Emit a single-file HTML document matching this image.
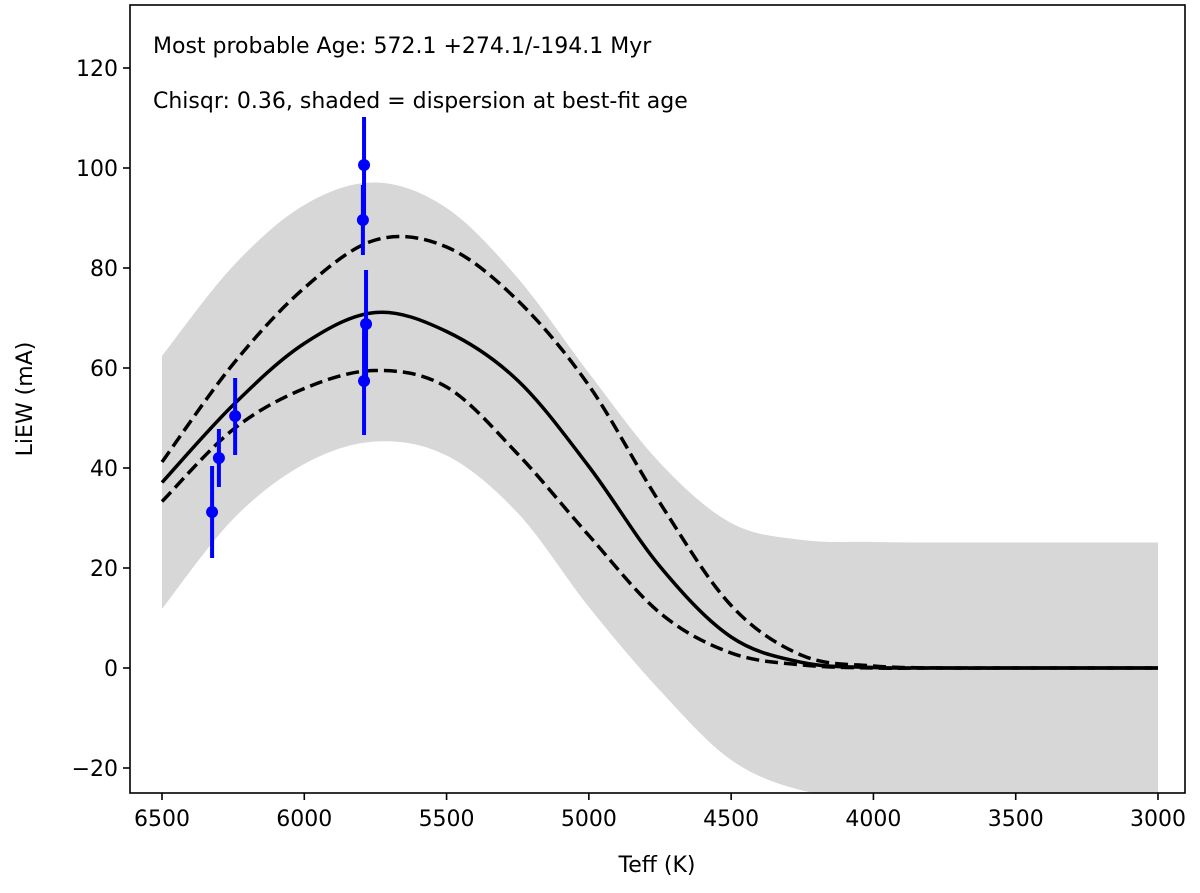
<!DOCTYPE html>
<html><head><meta charset="utf-8"><style>
body{margin:0;background:#fff}
svg text{font-family:"DejaVu Sans","Liberation Sans",sans-serif;fill:#000}
</style></head><body>
<svg id="chart" width="1200" height="888" xmlns="http://www.w3.org/2000/svg">
<g id="plot"></g>
</svg>
<script>
const teffGrid=[6500,6250,6000,5750,5500,5250,5000,4750,4500,4250,4000,3750,3500,3250,3000];
const solidVals=[37.1,52.6,64.9,71.1,67.3,57.5,40.3,20.3,6.2,1.1,0.1,0,0,0,0];
const upperVals=[41.2,60.8,76,85.6,84.2,73.5,56.5,33,12.5,2.5,0.4,0,0,0,0];
const lowerVals=[33.3,47.7,55.9,59.5,56.2,42.8,26.5,11,3,0.6,0,0,0,0,0];
const shadeTop=[62.4,80.4,92.6,97.1,92,78,59,41,29,25.6,25.2,25.1,25.1,25.1,25.1];
const shadeBot=[11.8,29.8,40.8,45.3,42.5,31,12.2,-4.5,-18.4,-24.5,-25.7,-26,-26,-26,-26];
const ptTeff=[6324,6300,6243,5790,5794,5783,5790];
const ptEW=[31.2,42,50.4,100.6,89.6,68.8,57.4];
const ptLo=[22,36.2,42.6,90.6,82.6,58,46.6];
const ptHi=[40.4,47.8,58,110.2,96.6,79.6,68.2];
const xTicks=[6500,6000,5500,5000,4500,4000,3500,3000];
const yTicks=[-20,0,20,40,60,80,100,120];

const L=130,R=1185,T=5,B=793;
const X=t=>162+(6500-t)*(996/3500);
const Y=v=>668-v*5;
const NS="http://www.w3.org/2000/svg";
const g=document.getElementById('plot');
function el(tag,attrs,parent){const e=document.createElementNS(NS,tag);for(const k in attrs)e.setAttribute(k,attrs[k]);(parent||g).appendChild(e);return e;}
function smooth(pts){let d=`M${pts[0][0]},${pts[0][1]}`;for(let i=0;i<pts.length-1;i++){const p0=pts[Math.max(0,i-1)],p1=pts[i],p2=pts[i+1],p3=pts[Math.min(pts.length-1,i+2)];
const c1=[p1[0]+(p2[0]-p0[0])/6,p1[1]+(p2[1]-p0[1])/6],c2=[p2[0]-(p3[0]-p1[0])/6,p2[1]-(p3[1]-p1[1])/6];d+=`C${c1[0]},${c1[1]} ${c2[0]},${c2[1]} ${p2[0]},${p2[1]}`;}return d;}
const clip=el('clipPath',{id:'c'});el('rect',{x:L,y:T,width:R-L,height:B-T},clip);
const bandTop=teffGrid.map((t,i)=>[X(t),Y(shadeTop[i])]);
const bandBot=teffGrid.map((t,i)=>[X(t),Y(shadeBot[i])]).reverse();
const sd=smooth(bandTop)+smooth(bandBot).replace('M','L')+'Z';
const shade=el('path',{d:sd,fill:'#d7d7d7','clip-path':'url(#c)'});


function line(vals,dash,name){const p=el('path',{d:smooth(teffGrid.map((t,i)=>[X(t),Y(vals[i])])),fill:'none',stroke:'#000','stroke-width':3.5,'stroke-dasharray':dash||'none','clip-path':'url(#c)'});

}
line(upperVals,'13,6','upper-age-curve');
line(lowerVals,'13,6','lower-age-curve');
line(solidVals,null,'best-fit-curve');
ptTeff.forEach((t,i)=>{
const b=el('line',{x1:X(t),x2:X(t),y1:Y(ptLo[i]),y2:Y(ptHi[i]),stroke:'#0000ff','stroke-width':4});


const c=el('circle',{cx:X(t),cy:Y(ptEW[i]),r:6,fill:'#0000ff'});


});
const fr=el('rect',{x:L,y:T,width:R-L,height:B-T,fill:'none',stroke:'#000','stroke-width':1.6});


xTicks.forEach(t=>{el('line',{x1:X(t),x2:X(t),y1:B,y2:B+7,stroke:'#000','stroke-width':1.6});
const tx=el('text',{x:X(t),y:B+33,'text-anchor':'middle','font-size':22});tx.textContent=t;

});
yTicks.forEach(v=>{el('line',{x1:L-7,x2:L,y1:Y(v),y2:Y(v),stroke:'#000','stroke-width':1.6});
const tx=el('text',{x:L-12,y:Y(v)+8,'text-anchor':'end','font-size':22});tx.textContent=(v<0?'\u2212'+(-v):v);

});
</script>
<svg style="position:absolute;left:0;top:0" width="1200" height="888" xmlns="http://www.w3.org/2000/svg">
<text x="657" y="872" text-anchor="middle" font-size="22">Teff (K)</text>
<text transform="translate(32,399) rotate(-90)" text-anchor="middle" font-size="22">LiEW (mA)</text>
<text x="153" y="53" font-size="22">Most probable Age: 572.1 +274.1/-194.1 Myr</text>
<text x="153" y="108" font-size="22">Chisqr: 0.36, shaded = dispersion at best-fit age</text>
</svg>
</body></html>
